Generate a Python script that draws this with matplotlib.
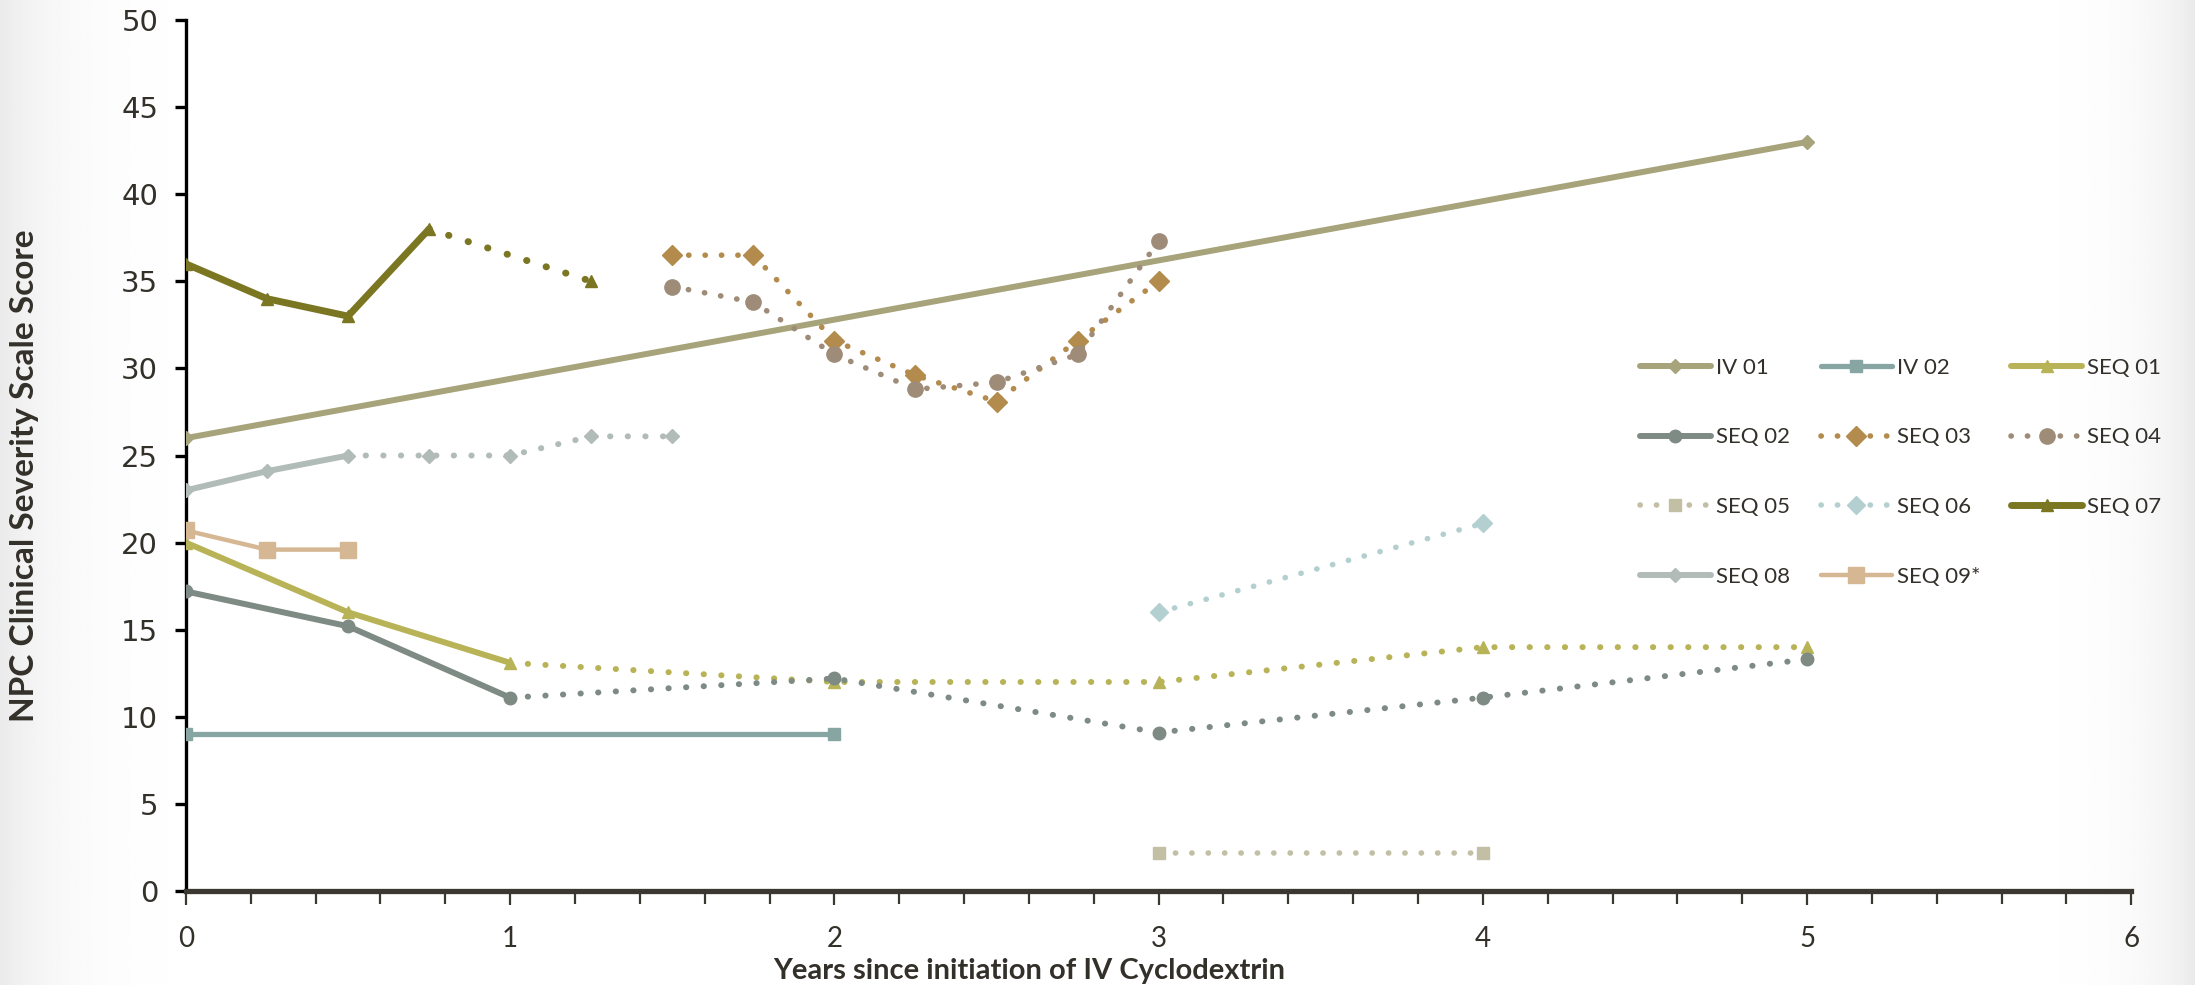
import matplotlib
matplotlib.use("Agg")
import matplotlib.pyplot as plt
import numpy as np
from matplotlib.ticker import MultipleLocator

# ------------------------------------
# DATA (years since start, NPC score)
# ------------------------------------
iv01_x = [0, 5]
iv01_y = [26, 43]

iv02_x = [0, 2]
iv02_y = [9, 9]

seq01_x = [0, 0.5, 1, 2, 3, 4, 5]
seq01_y = [20, 16, 13.1, 12, 12, 14, 14]

seq02_x = [0, 0.5, 1, 2, 3, 4, 5]
seq02_y = [17.2, 15.2, 11.1, 12.2, 9.1, 11.1, 13.3]

seq03_x = [1.5, 1.75, 2, 2.25, 2.5, 2.75, 3]
seq03_y = [36.5, 36.5, 31.6, 29.6, 28.1, 31.6, 35]

seq04_x = [1.5, 1.75, 2, 2.25, 2.5, 2.75, 3]
seq04_y = [34.7, 33.8, 30.8, 28.8, 29.2, 30.8, 37.3]

seq05_x = [3, 4]
seq05_y = [2.2, 2.2]

seq06_x = [3, 4]
seq06_y = [16, 21.1]

seq07_x = [0, 0.25, 0.5, 0.75, 1.25]
seq07_y = [36, 34, 33, 38, 35]

seq08_x = [0, 0.25, 0.5, 0.75, 1, 1.25, 1.5]
seq08_y = [23, 24.1, 25, 25, 25, 26.1, 26.1]

seq09_x = [0, 0.25, 0.5]
seq09_y = [20.7, 19.6, 19.6]

# name, x, y, colour, marker, marker size, line width, points drawn solid
series = [
    ("IV 01", iv01_x, iv01_y, "#a7a37a", "D", 7, 4.3, 2),
    ("IV 02", iv02_x, iv02_y, "#86a5a3", "s", 9, 3.8, 2),
    ("SEQ 01", seq01_x, seq01_y, "#b9b357", "^", 9, 4.3, 3),
    ("SEQ 02", seq02_x, seq02_y, "#7e8b84", "o", 9, 4.3, 3),
    ("SEQ 03", seq03_x, seq03_y, "#b38b4c", "D", 10, 4.0, 0),
    ("SEQ 04", seq04_x, seq04_y, "#9e8b78", "o", 11, 4.0, 0),
    ("SEQ 05", seq05_x, seq05_y, "#c2bfa5", "s", 9, 4.0, 0),
    ("SEQ 06", seq06_x, seq06_y, "#b4cfcf", "D", 9, 4.0, 0),
    ("SEQ 07", seq07_x, seq07_y, "#7b7622", "^", 9, 5.0, 4),
    ("SEQ 08", seq08_x, seq08_y, "#b1bbb8", "D", 7, 4.3, 3),
    ("SEQ 09*", seq09_x, seq09_y, "#d5b793", "s", 11, 3.2, 3),
]

text_col = "#33302a"

# ------------------------------------
# FIGURE
# ------------------------------------
fig = plt.figure(figsize=(21.95, 9.85), dpi=100)

# faint grey fade at the left and right edges
bg = fig.add_axes([0, 0, 1, 1], zorder=-5)
u = np.linspace(0, 1, 800)
fade = 1 - 0.08 * (np.exp(-u / 0.025) + np.exp(-(1 - u) / 0.02))
bg.imshow(np.tile(fade, (10, 1)), cmap="gray", vmin=0, vmax=1,
          aspect="auto", extent=[0, 1, 0, 1])
bg.set_axis_off()

ax = fig.add_axes([0.0847, 0.0954, 0.8863, 0.8843])
ax.patch.set_alpha(0)

dots = (0, (0.05, 2.9))
handles = {}
for name, xs, ys, col, mk, ms, lw, n_solid in series:
    if n_solid > 0:
        h, = ax.plot(xs[:n_solid], ys[:n_solid], color=col, lw=lw,
                     marker=mk, ms=ms, mfc=col, mec=col,
                     solid_capstyle="round", zorder=3)
        handles[name] = h
    if n_solid < len(xs):
        start = max(n_solid - 1, 0)
        h2, = ax.plot(xs[start:], ys[start:], color=col, lw=lw,
                      linestyle=dots, dash_capstyle="round",
                      marker=mk, ms=ms, mfc=col, mec=col,
                      markevery=list(range(1 if n_solid > 0 else 0, len(xs) - start)),
                      zorder=3)
        if name not in handles:
            handles[name] = h2

ax.set_xlim(0, 6)
ax.set_ylim(0, 50)
ax.xaxis.set_major_locator(MultipleLocator(1))
ax.xaxis.set_minor_locator(MultipleLocator(0.2))
ax.yaxis.set_major_locator(MultipleLocator(5))

for s in ["top", "right"]:
    ax.spines[s].set_visible(False)
ax.spines["left"].set_linewidth(2.4)
ax.spines["left"].set_color("black")
ax.spines["bottom"].set_linewidth(3.8)
ax.spines["bottom"].set_color("#3a3830")

ax.tick_params(axis="y", direction="out", length=8, width=2.4,
               color="black", labelsize=21, labelcolor=text_col, pad=12)
ax.tick_params(axis="x", which="major", direction="out", length=10, width=1.6,
               color="#3a3830", labelsize=20, labelcolor=text_col, pad=15)
ax.tick_params(axis="x", which="minor", direction="out", length=9, width=1.6,
               color="#3a3830")
for lab in ax.get_xticklabels():
    lab.set_fontfamily("Lato")

fig.text(0.469, 0.014, "Years since initiation of IV Cyclodextrin",
         ha="center", va="center", fontsize=21, fontweight="bold",
         family="Lato", color=text_col)
fig.text(0.011, 0.517, "NPC Clinical Severity Scale Score",
         ha="center", va="center", rotation=90, fontsize=24,
         fontweight="bold", family="Lato", color=text_col)

order = ["IV 01", "SEQ 02", "SEQ 05", "SEQ 08",
         "IV 02", "SEQ 03", "SEQ 06", "SEQ 09*",
         "SEQ 01", "SEQ 04", "SEQ 07"]
leg = fig.legend([handles[n] for n in order], order, ncol=3,
                 loc="upper left", bbox_to_anchor=(0.738, 0.657),
                 frameon=False, handlelength=3.2,
                 handletextpad=0.21, columnspacing=1.4, labelspacing=2.23,
                 prop={"family": "Lato", "size": 16})
for t in leg.get_texts():
    t.set_color(text_col)

fig.savefig("out.png", dpi=100)
